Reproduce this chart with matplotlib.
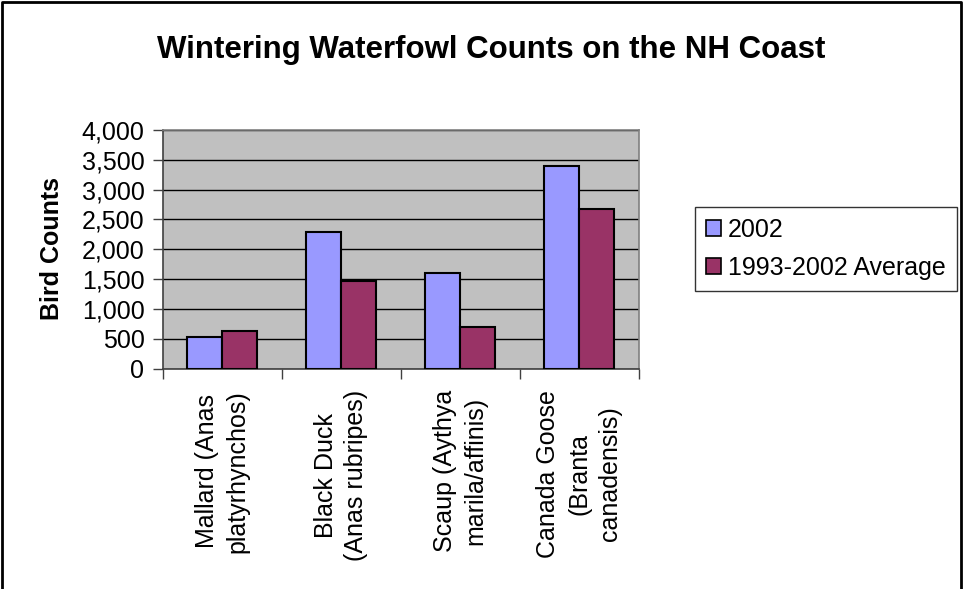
import numpy as np
from matplotlib import pyplot as plt
from matplotlib.lines import Line2D
from matplotlib.ticker import FuncFormatter

#---------------------------------DATA-----------------------------------------------------------------
species = ['Mallard (Anas\nplatyrhynchos)',
           'Black Duck\n(Anas rubripes)',
           'Scaup (Aythya\nmarila/affinis)',
           'Canada Goose\n(Branta\ncanadensis)']
counts_2002 = [530, 2285, 1610, 3390]
counts_avg = [635, 1470, 700, 2680]
series_names = ['2002', '1993-2002 Average']

#---------------------------------PLOT-----------------------------------------------------------------
plt.rcParams['font.family'] = ['Liberation Sans', 'DejaVu Sans']
fs = 18

fig = plt.figure(figsize=(9.63, 5.89), dpi=100)
ax = fig.add_axes([162.5/963, 1 - 368.5/589, 476/963, 238.5/589])

x = np.arange(len(species))
w = 0.295
ax.bar(x - w/2, counts_2002, w, color='#9999FF', edgecolor='black', linewidth=1.5,
       label=series_names[0], zorder=3)
ax.bar(x + w/2, counts_avg, w, color='#993366', edgecolor='black', linewidth=1.5,
       label=series_names[1], zorder=3)

ax.set_facecolor('#C0C0C0')
ax.set_xlim(-0.5, len(species) - 0.5)
ax.set_ylim(0, 4000)
ax.set_yticks(np.arange(0, 4001, 500))
ax.yaxis.set_major_formatter(FuncFormatter(lambda v, p: f'{int(v):,}'))
ax.grid(axis='y', color='black', linewidth=1, zorder=1)

# category ticks sit between the groups, labels centred in each group
ax.set_xticks(np.arange(-0.5, len(species), 1.0))
ax.set_xticklabels([])
ax.tick_params(axis='x', length=7, width=1, color='#404040')
ax.tick_params(axis='y', length=7, width=1, color='#404040', labelsize=fs, pad=6)
for i, name in enumerate(species):
    ax.text(i, -0.09, name, transform=ax.get_xaxis_transform(), rotation=90,
            ha='center', va='top', multialignment='center', fontsize=fs,
            linespacing=1.35)

for side in ['top', 'right']:
    ax.spines[side].set_color('#808080')
for side in ['left', 'bottom']:
    ax.spines[side].set_color('#404040')
for s in ax.spines.values():
    s.set_linewidth(1.2)

fig.text(52/963, 1 - 249/589, 'Bird Counts', rotation=90, ha='center', va='center',
         fontsize=fs, fontweight='bold')
fig.text(491/963, 1 - 58/589, 'Wintering Waterfowl Counts on the NH Coast',
         ha='center', va='baseline', fontsize=22.5, fontweight='bold')

leg = fig.legend(loc='center left', bbox_to_anchor=(695/963, 1 - 249/589),
                 fontsize=fs, frameon=True, fancybox=False, edgecolor='black',
                 handlelength=0.6, handleheight=0.6, handletextpad=0.25,
                 labelspacing=0.55, borderpad=0.45, borderaxespad=0)
leg.get_frame().set_linewidth(1)
for p in leg.get_patches():
    p.set_linewidth(1.2)

# outer chart border (left, top, right)
fig.add_artist(Line2D([2/963, 2/963, 961/963, 961/963], [0, 1 - 2/589, 1 - 2/589, 0],
                      transform=fig.transFigure, color='black', linewidth=2))

plt.savefig('out.png', dpi=100)
